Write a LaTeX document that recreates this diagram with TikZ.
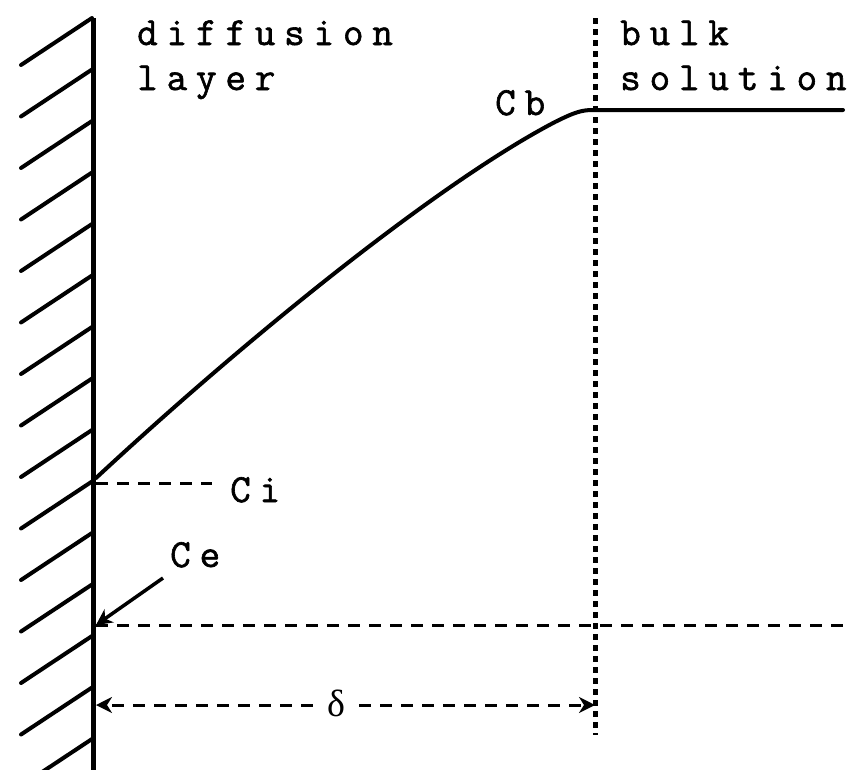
\documentclass[tikz,border=0pt]{standalone}
\usepackage{fontspec}
\newfontfamily\lblfont{Latin Modern Mono}[LetterSpace=22,FakeBold=1.5]
\newfontfamily\greekfont{Liberation Serif}
\usetikzlibrary{arrows.meta}
\begin{document}
\begin{tikzpicture}[x=1pt,y=-1pt,
  lbl/.style={font=\lblfont\fontsize{40}{44}\selectfont, inner sep=0pt, anchor=base west},
  wall/.style={line width=5pt},
  hatch/.style={line width=4pt, line cap=round},
  curveline/.style={line width=4pt, line cap=round},
  dashline/.style={line width=3pt, dash pattern=on 12pt off 9pt},
  dotline/.style={line width=5pt, dash pattern=on 6pt off 5pt},
  tip/.style={-{Stealth[length=16pt,width=16pt,inset=5pt]}}]
\useasboundingbox (0,0) rectangle (861,769);
% wall
\coordinate (wtop) at (93,18);
\coordinate (wbot) at (93,775);
\draw[wall] (wtop) -- (wbot);
\foreach \k in {0,...,14}
  \draw[hatch] (92,{18+51.5*\k}) -- ++(-71,47);
% boundary of diffusion layer
\coordinate (dtop) at (595,18);
\coordinate (dbot) at (595,735);
\draw[dotline] (dtop) -- (dbot);
% labels
\node[lbl] (diff) at (137,45) {diffusion};
\node[lbl] (layer) at (137,90) {layer};
\node[lbl] (bulk) at (620,45) {bulk};
\node[lbl] (sol) at (620,90) {solution};
\node[lbl] (cbl) at (495,115) {Cb};
\node[lbl] (cil) at (230,502) {Ci};
\node[lbl] (cel) at (170,567) {Ce};
% concentration profile
\coordinate (ci) at (96,478);
\coordinate (cb) at (593,110);
\coordinate (bend) at (843,110);
\draw[curveline] (ci) .. controls (250,335) and (440,182) .. (555,122)
  .. controls (575,112) and (582,110) .. (cb) -- (bend);
% Ci dashed
\coordinate (cidash) at (96,483);
\draw[dashline] (cidash) -- ([xshift=-18pt]cidash -| cil.west);
% Ce
\coordinate (ce) at (96,625);
\coordinate (ceend) at (843,625);
\coordinate (cestart) at (163,578);
\draw[line width=3.5pt, tip] (cestart) -- (ce);
\draw[dashline] (ce) -- (ceend);
% delta
\coordinate (dl) at (96,705);
\coordinate (dr) at (595,705);
\node[font=\greekfont\fontsize{38}{40}\selectfont, inner sep=0pt, anchor=base] (delta) at (336,716) {δ};
\draw[dashline, tip] ([xshift=-14pt]delta.west |- dl) -- (dl);
\draw[dashline, tip] ([xshift=14pt]delta.east |- dr) -- (dr);
\end{tikzpicture}
\end{document}
